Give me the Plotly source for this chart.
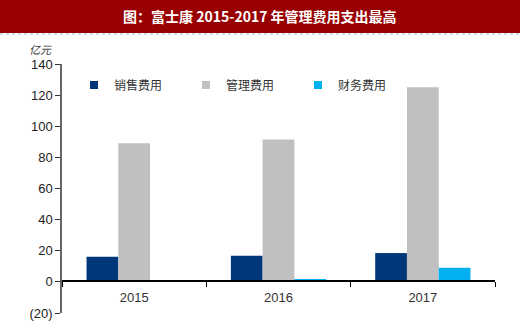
import plotly.graph_objects as go

years = ["2015", "2016", "2017"]
sales = [16.2, 16.8, 18.5]
admin = [89.0, 91.5, 125.0]
finance = [0.0, 1.8, 9.0]
names = ["销售费用", "管理费用", "财务费用"]
colors = ["#00377A", "#C0C0C0", "#00B0F0"]
ytick_vals = [-20, 0, 20, 40, 60, 80, 100, 120, 140]
ytick_text = ["(20)", "0", "20", "40", "60", "80", "100", "120", "140"]
title = "图：富士康 2015-2017 年管理费用支出最高"

W, H = 520, 328
L, R, T, B = 62, 25, 64, 15
pw, ph = W - L - R, H - T - B
def px_x(x):
    return (x - L) / pw
def px_y(y):
    return (H - B - y) / ph

fig = go.Figure()
for n, vals, c in zip(names, [sales, admin, finance], colors):
    fig.add_trace(go.Bar(x=years, y=vals, name=n, marker=dict(color=c, line=dict(width=0)),
                         showlegend=False))
    fig.add_trace(go.Scatter(x=[None], y=[None], mode="markers", name=n,
                             marker=dict(symbol="square", size=8, color=c)))

fig.update_layout(
    width=W, height=H,
    margin=dict(l=L, r=R, t=T, b=B, autoexpand=False),
    paper_bgcolor="white", plot_bgcolor="white",
    barmode="group", bargap=0.34, bargroupgap=0,
    showlegend=True,
    legend=dict(orientation="h", x=px_x(74), y=px_y(85), xanchor="left", yanchor="middle",
                font=dict(family="Noto Sans CJK SC", size=12, color="#333333"),
                entrywidth=67, entrywidthmode="pixels", itemwidth=30,
                bgcolor="rgba(0,0,0,0)"),
    xaxis=dict(type="category", range=[-0.5, 2.5], anchor="free", position=px_y(281),
               showline=True, linecolor="#000000", linewidth=1.5, automargin=False,
               ticks="outside", tickson="boundaries", ticklen=5, tickcolor="#000000",
               ticklabelstandoff=5,
               tickfont=dict(family="Liberation Sans", size=13, color="#333333"),
               showgrid=False, zeroline=False),
    yaxis=dict(range=[-20, 140], tickvals=ytick_vals, ticktext=ytick_text, automargin=False,
               showline=True, linecolor="#666666", linewidth=1.5,
               ticks="outside", ticklen=5, tickcolor="#333333",
               tickfont=dict(family="Liberation Sans", size=13, color="#222222"),
               showgrid=False, zeroline=False),
)

fig.add_shape(type="rect", xref="paper", yref="paper",
              x0=px_x(0), x1=px_x(W), y0=px_y(33), y1=px_y(0),
              fillcolor="#990000", line=dict(width=0), layer="below")
fig.add_shape(type="line", xref="paper", yref="paper",
              x0=px_x(0), x1=px_x(W), y0=px_y(34), y1=px_y(34),
              line=dict(color="#9DB8E6", width=1, dash="dot"))
fig.add_annotation(text="<b>" + title + "</b>", xref="paper", yref="paper",
                   x=px_x(260), y=px_y(16), xanchor="center", yanchor="middle",
                   showarrow=False, font=dict(family="Noto Sans CJK SC", size=14, color="white"))
fig.add_annotation(text="<i>亿元</i>", xref="paper", yref="paper",
                   x=px_x(40), y=px_y(49), xanchor="center", yanchor="middle",
                   showarrow=False, font=dict(family="Noto Sans CJK SC", size=11, color="#333333"))

fig.write_html("out.html")
